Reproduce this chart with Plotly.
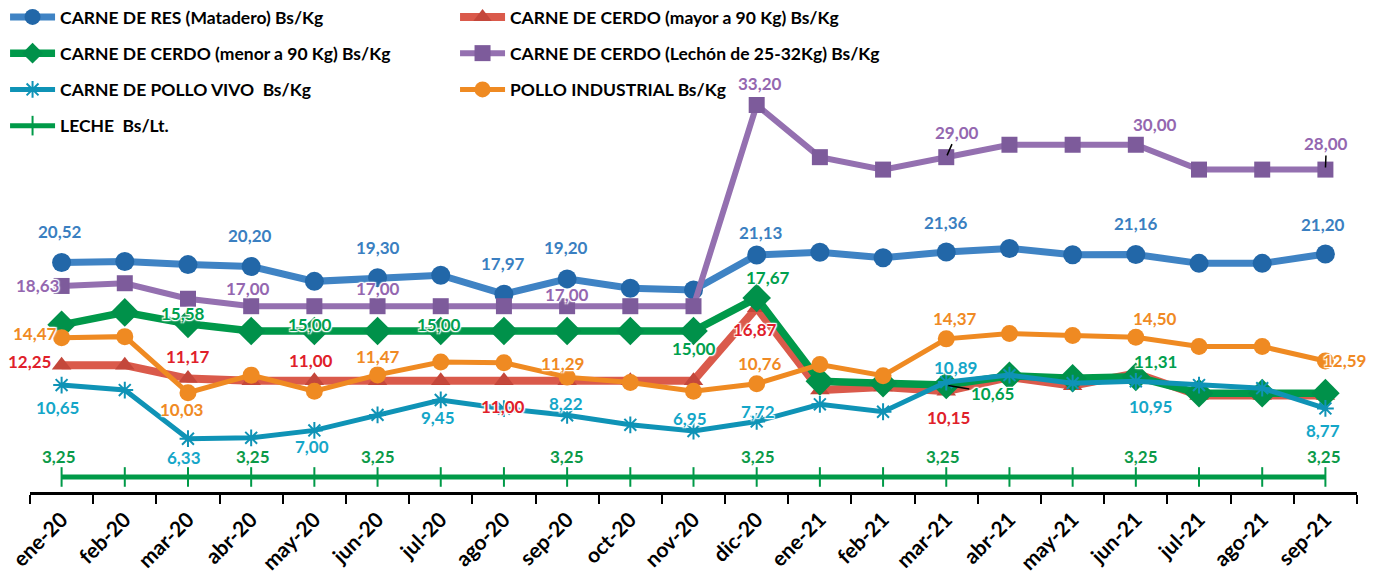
import plotly.graph_objects as go

months = ["ene-20", "feb-20", "mar-20", "abr-20", "may-20", "jun-20", "jul-20", "ago-20",
          "sep-20", "oct-20", "nov-20", "dic-20", "ene-21", "feb-21", "mar-21", "abr-21",
          "may-21", "jun-21", "jul-21", "ago-21", "sep-21"]

res_matadero = [20.52, 20.60, 20.35, 20.20, 19.00, 19.30, 19.50, 17.97, 19.20, 18.45, 18.30,
                21.13, 21.35, 20.90, 21.36, 21.65, 21.15, 21.16, 20.45, 20.45, 21.20]
cerdo_mayor = [12.25, 12.25, 11.17, 11.00, 11.00, 11.00, 11.00, 11.00, 11.00, 11.00, 11.00,
               16.87, 10.25, 10.50, 10.15, 11.30, 10.60, 11.60, 9.80, 9.80, 9.80]
cerdo_menor = [15.50, 16.50, 15.58, 15.00, 15.00, 15.00, 15.00, 15.00, 15.00, 15.00, 15.00,
               17.67, 10.95, 10.80, 10.65, 11.40, 11.20, 11.31, 10.00, 10.00, 10.00]
cerdo_lechon = [18.63, 18.85, 17.60, 17.00, 17.00, 17.00, 17.00, 17.00, 17.00, 17.00, 17.00,
                33.20, 29.00, 28.00, 29.00, 30.00, 30.00, 30.00, 28.00, 28.00, 28.00]
pollo_vivo = [10.65, 10.25, 6.33, 6.40, 7.00, 8.25, 9.45, 8.75, 8.22, 7.45, 6.95,
              7.72, 9.10, 8.50, 10.89, 11.45, 10.80, 10.95, 10.65, 10.40, 8.77]
pollo_industrial = [14.47, 14.55, 10.03, 11.45, 10.15, 11.47, 12.50, 12.45, 11.29, 10.85, 10.15,
                    10.76, 12.30, 11.40, 14.37, 14.80, 14.65, 14.50, 13.75, 13.75, 12.59]
leche = [3.25, 3.25, 3.25, 3.25, 3.25, 3.25, 3.25, 3.25, 3.25, 3.25, 3.25,
         3.25, 3.25, 3.25, 3.25, 3.25, 3.25, 3.25, 3.25, 3.25, 3.25]

series_names = {
    "res": "CARNE DE RES (Matadero) Bs/Kg",
    "mayor": "CARNE DE CERDO (mayor a 90 Kg) Bs/Kg",
    "menor": "CARNE DE CERDO (menor a 90 Kg) Bs/Kg",
    "lechon": "CARNE DE CERDO (Lechón de 25-32Kg) Bs/Kg",
    "vivo": "CARNE DE POLLO VIVO  Bs/Kg",
    "ind": "POLLO INDUSTRIAL Bs/Kg",
    "leche": "LECHE  Bs/Lt.",
}
series_values = {
    "res": res_matadero, "mayor": cerdo_mayor, "menor": cerdo_menor, "lechon": cerdo_lechon,
    "vivo": pollo_vivo, "ind": pollo_industrial, "leche": leche,
}

FONT = "Lato"

styles = {
    "res": dict(lc="#3F83C4", mc="#2267A8", lw=7, sym="circle", ms=19, tc="#3A7FC1", leg="legend"),
    "mayor": dict(lc="#DA5A4B", mc="#C4473B", lw=8, sym="triangle-up", ms=17, tc="#E0202A", leg="legend2"),
    "menor": dict(lc="#00994A", mc="#00914A", lw=7.5, sym="diamond", ms=22, tc="#00A04E", leg="legend"),
    "lechon": dict(lc="#9470B0", mc="#7D5B9B", lw=6, sym="square", ms=16, tc="#9467B0", leg="legend2"),
    "vivo": dict(lc="#0F93B6", mc="#0F93B6", lw=5, sym="asterisk-open", ms=14, tc="#14A6C8", leg="legend"),
    "ind": dict(lc="#EF8A22", mc="#EF8A22", lw=5, sym="circle", ms=17, tc="#F08A24", leg="legend2"),
    "leche": dict(lc="#009A48", mc="#009A48", lw=5, sym="line-ns-open", ms=14, tc="#0B9A48", leg="legend"),
}

# label placements: (series, index, xshift, yshift[up positive])
labels = [
    ("res", 0, -2, 31), ("res", 3, -1, 31), ("res", 5, 0, 30), ("res", 7, -1, 31),
    ("res", 8, -1, 31), ("res", 11, 4, 22), ("res", 14, 0, 30), ("res", 17, 0, 31), ("res", 20, -2, 30),
    ("lechon", 0, -24, 0), ("lechon", 3, -3, 18), ("lechon", 5, 0, 18), ("lechon", 8, 0, 12),
    ("lechon", 11, 3, 22), ("lechon", 17, 19, 20),
    ("menor", 2, -5, 10), ("menor", 4, -4, 7), ("menor", 6, -2, 7), ("menor", 10, 0, -17),
    ("menor", 11, 11, 20), ("menor", 17, 20, 15),
    ("mayor", 0, -32, 4), ("mayor", 2, 0, 22), ("mayor", 4, -3, 20), ("mayor", 7, -1, -26),
    ("mayor", 11, -2, -22), ("mayor", 14, 2, -26),
    ("vivo", 0, -4, -22), ("vivo", 2, -4, -19), ("vivo", 4, -2, -16), ("vivo", 6, -3, -18),
    ("vivo", 8, -1, 12), ("vivo", 10, -4, 13), ("vivo", 11, 1, 10), ("vivo", 14, 9, 15),
    ("vivo", 17, 15, -25), ("vivo", 20, -2, -22),
    ("ind", 0, -27, 4), ("ind", 2, -6, -17), ("ind", 5, 0, 18), ("ind", 8, -5, 14),
    ("ind", 11, 3, 20), ("ind", 14, 9, 20), ("ind", 17, 19, 19), ("ind", 20, 19, 0),
    ("leche", 0, -3, 20), ("leche", 3, 2, 20), ("leche", 5, 0, 20), ("leche", 8, 0, 20),
    ("leche", 11, 1, 20), ("leche", 14, -3, 20), ("leche", 17, 5, 20), ("leche", 20, -1, 20),
]
# labels with a leader line: (series, index, ax, ay)
leader_labels = [("lechon", 14, 11, -25), ("lechon", 20, 1, -26), ("menor", 14, 46, 8)]

order = ["res", "mayor", "menor", "lechon", "vivo", "ind", "leche"]

fig = go.Figure()
for k in order:
    s = styles[k]
    fig.add_trace(go.Scatter(
        x=months, y=series_values[k], name=series_names[k], mode="lines+markers",
        line=dict(color=s["lc"], width=s["lw"]),
        marker=dict(symbol=s["sym"], size=s["ms"], color=s["mc"],
                    line=dict(color=s["mc"], width=2 if "open" in s["sym"] else 0)),
        legend=s["leg"], legendgroup=k, cliponaxis=False, hoverinfo="skip",
    ))

shadow = "-1px -1px 1px #fff, 1px -1px 1px #fff, -1px 1px 1px #fff, 1px 1px 1px #fff, 0 0 3px #fff"

def fmt(v):
    return f"{v:.2f}".replace(".", ",")

annotations = []
for k, i, dx, dy in labels:
    annotations.append(dict(
        x=months[i], y=series_values[k][i], text=fmt(series_values[k][i]),
        showarrow=False, xshift=dx, yshift=dy,
        font=dict(family=FONT, size=17, color=styles[k]["tc"], weight="bold", shadow=shadow),
    ))
for k, i, ax, ay in leader_labels:
    annotations.append(dict(
        x=months[i], y=series_values[k][i], text=fmt(series_values[k][i]),
        showarrow=True, ax=ax, ay=ay, arrowhead=0, arrowwidth=1.5, arrowcolor="black",
        standoff=2,
        font=dict(family=FONT, size=17, color=styles[k]["tc"], weight="bold", shadow=shadow),
    ))

legend_common = dict(
    xref="paper", yref="paper", yanchor="top", xanchor="left",
    font=dict(family=FONT, size=17.5, color="black", weight="bold"),
    bgcolor="rgba(0,0,0,0)", tracegroupgap=10.5, itemwidth=45, orientation="v",
)

fig.update_layout(
    width=1373, height=573,
    margin=dict(l=22, r=24, t=2, b=89, autoexpand=False),
    paper_bgcolor="white", plot_bgcolor="white",
    showlegend=True,
    legend=dict(x=-0.0188, y=1.0228, **legend_common),
    legend2=dict(x=0.3203, y=1.0228, **legend_common),
    xaxis=dict(
        type="category", range=[-0.5, 20.5], showgrid=False, zeroline=False,
        showline=True, linecolor="black", linewidth=3, automargin=False,
        ticks="outside", tickson="boundaries", ticklen=9, tickwidth=2, tickcolor="black",
        tickangle=-45, ticklabelstandoff=4,
        tickfont=dict(family=FONT, size=21, color="black", weight="bold"),
    ),
    yaxis=dict(range=[2.04, 40.85], visible=False, showgrid=False, zeroline=False),
    annotations=annotations,
)

fig.write_html("out.html")
